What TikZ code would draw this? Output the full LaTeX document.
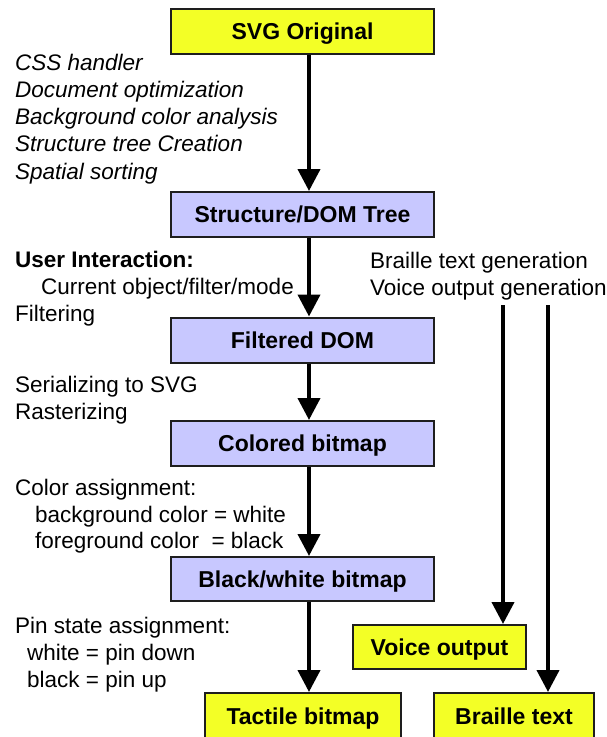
\documentclass[tikz,border=0pt]{standalone}
\usepackage{fontspec}
\setmainfont{Liberation Sans}
\usetikzlibrary{arrows.meta}
\definecolor{boxyellow}{RGB}{243,255,38}
\definecolor{boxlav}{RGB}{200,200,255}
\definecolor{boxline}{RGB}{30,30,30}
\tikzset{
  flowbox/.style={draw=boxline, line width=2pt, inner sep=0pt, text height=16pt, text depth=0pt, font=\fontsize{23}{27}\selectfont\bfseries},
  ybox/.style={flowbox, fill=boxyellow},
  lbox/.style={flowbox, fill=boxlav},
  lbl/.style={anchor=base west, inner sep=0pt, font=\fontsize{22.5}{27}\selectfont},
  ilbl/.style={lbl, font=\fontsize{22.5}{27}\selectfont\itshape},
  blbl/.style={lbl, font=\fontsize{22.5}{27}\selectfont\bfseries},
  arr/.style={line width=4pt, -{Triangle[width=22pt,length=22pt]}}
}
\begin{document}
\begin{tikzpicture}[x=1pt,y=-1pt]
\useasboundingbox (0,0) rectangle (607,737);
\clip (0,0) rectangle (607,737);
% boxes
\node[ybox, minimum width=263pt, minimum height=45pt] (svg) at (302.5,31.5) {SVG Original};
\node[lbox, minimum width=263pt, minimum height=45pt] (dom) at (302.5,214.5) {Structure/DOM Tree};
\node[lbox, minimum width=263pt, minimum height=45pt] (fdom) at (302.5,340) {Filtered DOM};
\node[lbox, minimum width=263pt, minimum height=45pt] (cbmp) at (302.5,443.5) {Colored bitmap};
\node[lbox, minimum width=263pt, minimum height=44pt] (bw) at (302.5,579) {Black/white bitmap};
\node[ybox, minimum width=173pt, minimum height=44pt] (voice) at (439.5,647) {Voice output};
\node[ybox, minimum width=196pt, minimum height=46pt] (tact) at (303,716) {Tactile bitmap};
\node[ybox, minimum width=160pt, minimum height=46pt] (brl) at (514,716) {Braille text};
% arrows
\draw[arr] ([xshift=6.5pt]svg.south) -- ([xshift=6.5pt]dom.north);
\draw[arr] ([xshift=6.5pt]dom.south) -- ([xshift=6.5pt]fdom.north);
\draw[arr] ([xshift=6.5pt]fdom.south) -- ([xshift=6.5pt]cbmp.north);
\draw[arr] ([xshift=6.5pt]cbmp.south) -- ([xshift=6.5pt]bw.north);
\draw[arr] ([xshift=6.5pt]bw.south) -- ([xshift=6pt]tact.north);
\coordinate (vstart) at (503,305);
\coordinate (bstart) at (548,305);
\draw[arr] (vstart) -- (vstart |- voice.north);
\draw[arr] (bstart) -- (bstart |- brl.north);
% labels
\node[ilbl] (t1) at (15,70) {CSS handler};
\node[ilbl] (t2) at (15,97) {Document optimization};
\node[ilbl] (t3) at (15,124) {Background color analysis};
\node[ilbl] (t4) at (15,151) {Structure tree Creation};
\node[ilbl] (t5) at (15,179) {Spatial sorting};
\node[blbl] (u1) at (15,267) {User Interaction:};
\node[lbl] (u2) at (41,294) {Current object/filter/mode};
\node[lbl] (u3) at (15,321) {Filtering};
\node[lbl] (r1) at (370,268) {Braille text generation};
\node[lbl] (r2) at (370,295) {Voice output generation};
\node[lbl] (s1) at (15,392) {Serializing to SVG};
\node[lbl] (s2) at (15,419) {Rasterizing};
\node[lbl] (c1) at (15,495) {Color assignment:};
\node[lbl] (c2) at (35,522) {background color = white};
\node[lbl] (c3) at (35,548) {foreground color\ \ = black};
\node[lbl] (p1) at (15,633) {Pin state assignment:};
\node[lbl] (p2) at (27,660) {white = pin down};
\node[lbl] (p3) at (27,687) {black = pin up};
\end{tikzpicture}
\end{document}
